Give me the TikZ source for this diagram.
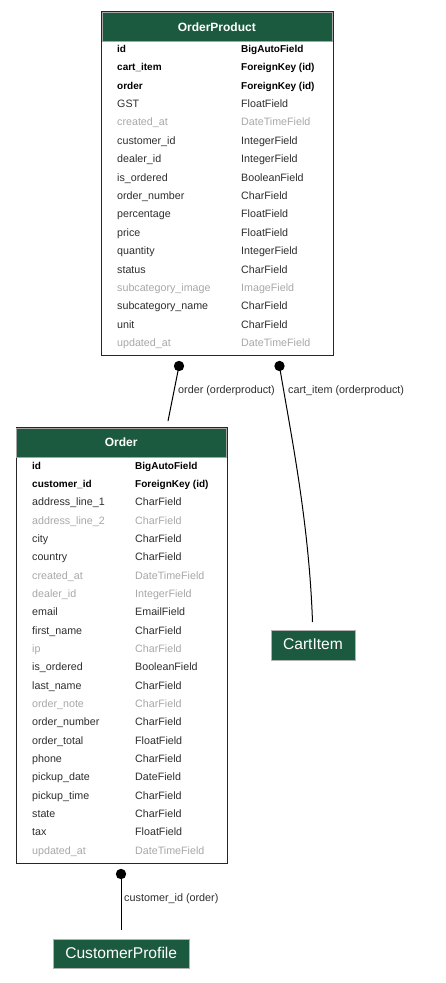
\documentclass[tikz,border=0pt]{standalone}
\usepackage{fontspec}
\setmainfont{Liberation Sans}
\definecolor{hdr}{HTML}{1B5A3F}
\definecolor{txtn}{HTML}{2E2E2E}
\definecolor{txtg}{HTML}{A8A8A8}
\begin{document}
\begin{tikzpicture}[x=1pt,y=-1pt,
  tablebox/.style={draw=black!85,line width=1.1pt,anchor=north west,inner sep=0pt},
  headbox/.style={fill=hdr,draw=black!35,line width=0.6pt,anchor=north west,inner sep=0pt},
  headtxt/.style={anchor=base,inner sep=0pt,text=white,font=\fontsize{12}{14}\selectfont\bfseries},
  rowb/.style={anchor=base west,inner sep=0pt,text=black,font=\fontsize{10}{12}\selectfont\bfseries},
  rown/.style={anchor=base west,inner sep=0pt,text=txtn,font=\fontsize{10.7}{12}\selectfont},
  rowg/.style={anchor=base west,inner sep=0pt,text=txtg,font=\fontsize{10.7}{12}\selectfont},
  entbox/.style={fill=hdr,draw=black!30,line width=0.6pt,text=white,font=\fontsize{15.6}{18}\selectfont,inner sep=0pt,text depth=0pt},
  conn/.style={draw=black,line width=1pt},
  dotc/.style={fill=black},
  lbl/.style={anchor=base west,inner sep=0pt,text=txtn,font=\fontsize{10.8}{12}\selectfont}]
\useasboundingbox (0,0) rectangle (445,983);
\fill[white] (0,0) rectangle (445,983);

% OrderProduct
\node[tablebox,minimum width=231.5,minimum height=344] (op) at (101,11) {};
\node[headbox,minimum width=230.5,minimum height=29.5] (ophead) at (101.5,11.5) {};
\node[headtxt] (optitle) at (216.8,31) {OrderProduct};
\foreach \n/\t/\s [count=\i from 0] in {
  id/BigAutoField/b, cart\_item/ForeignKey (id)/b, order/ForeignKey (id)/b,
  GST/FloatField/n, created\_at/DateTimeField/g, customer\_id/IntegerField/n,
  dealer\_id/IntegerField/n, is\_ordered/BooleanField/n, order\_number/CharField/n,
  percentage/FloatField/n, price/FloatField/n, quantity/IntegerField/n,
  status/CharField/n, subcategory\_image/ImageField/g, subcategory\_name/CharField/n,
  unit/CharField/n, updated\_at/DateTimeField/g}{
  \node[row\s] (opn\i) at (117,{52.3+\i*18.4}) {\n};
  \node[row\s] (opt\i) at (241,{52.3+\i*18.4}) {\t};
}

% Order
\node[tablebox,minimum width=211,minimum height=435.5] (ord) at (15.7,427.3) {};
\node[headbox,minimum width=210,minimum height=29.5] (ordhead) at (16.2,427.8) {};
\node[headtxt] (ordtitle) at (121.2,446) {Order};
\foreach \n/\t/\s [count=\i from 0] in {
  id/BigAutoField/b, customer\_id/ForeignKey (id)/b, address\_line\_1/CharField/n,
  address\_line\_2/CharField/g, city/CharField/n, country/CharField/n,
  created\_at/DateTimeField/g, dealer\_id/IntegerField/g, email/EmailField/n,
  first\_name/CharField/n, ip/CharField/g, is\_ordered/BooleanField/n,
  last\_name/CharField/n, order\_note/CharField/g, order\_number/CharField/n,
  order\_total/FloatField/n, phone/CharField/n, pickup\_date/DateField/n,
  pickup\_time/CharField/n, state/CharField/n, tax/FloatField/n,
  updated\_at/DateTimeField/g}{
  \node[row\s] (ordn\i) at (32,{469.3+\i*18.33}) {\n};
  \node[row\s] (ordt\i) at (135,{469.3+\i*18.33}) {\t};
}

% Simple entities
\node[entbox,minimum width=84,minimum height=30,text height=8.6pt] (cart) at (313,645) {CartItem};
\node[entbox,minimum width=135.7,minimum height=29.3,text height=9.4pt] (cust) at (121.2,953.6) {CustomerProfile};

% Connectors
\coordinate (d1) at (179,366);
\coordinate (d2) at (279.5,366);
\coordinate (d3) at (121,874);
\coordinate (e1) at (168,421);
\coordinate (e2) at (312.5,622);
\coordinate (e3) at (121,930);
\draw[conn] (d1) -- (e1);
\draw[conn] (d2) .. controls (290,430) and (309,520) .. (e2);
\draw[conn] (d3) -- (e3);
\fill[dotc] (d1) circle (5.2);
\fill[dotc] (d2) circle (5.2);
\fill[dotc] (d3) circle (5.2);
\node[lbl] (l1) at (178,393.3) {order (orderproduct)};
\node[lbl] (l2) at (288,393.3) {cart\_item (orderproduct)};
\node[lbl] (l3) at (124,901.7) {customer\_id (order)};
\end{tikzpicture}
\end{document}
